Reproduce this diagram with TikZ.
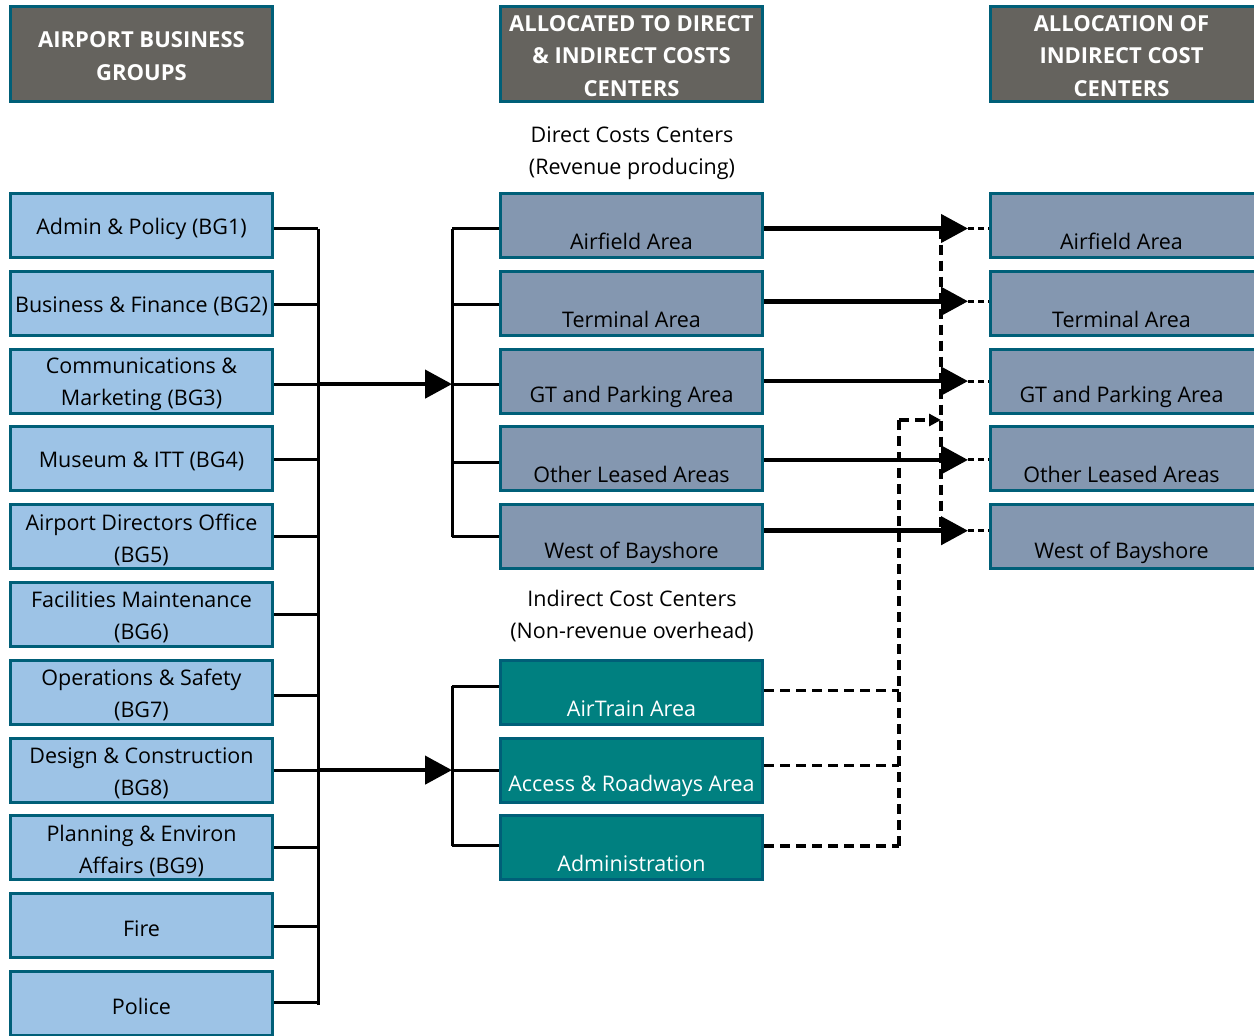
\documentclass[tikz,border=0pt]{standalone}
\usepackage{fontspec}
\setmainfont{Open Sans}
\usetikzlibrary{arrows.meta}
\definecolor{hdr}{HTML}{65635E}
\definecolor{bdr}{HTML}{005F78}
\definecolor{lbox}{HTML}{9DC3E6}
\definecolor{gbox}{HTML}{8497B0}
\definecolor{tbox}{HTML}{008080}
\begin{document}
\begin{tikzpicture}[x=1pt,y=-1pt,
  basebox/.style={draw=bdr, line width=3pt, minimum width=262pt, minimum height=64pt, inner sep=0pt, align=center},
  hdrbox/.style={basebox, fill=hdr, minimum height=95pt},
  widebox/.style={minimum width=268pt},
  lb/.style={basebox, fill=lbox},
  gb/.style={basebox, fill=gbox},
  tb/.style={basebox, fill=tbox},
  txt/.style={align=center, font=\fontsize{21.5}{32}\selectfont},
  hlab/.style={align=center, text=white, font=\bfseries\fontsize{22}{32.5}\selectfont, yshift=-2pt},
  llab/.style={txt, yshift=-3pt},
  glab/.style={txt, yshift=-16pt},
  wlab/.style={glab, text=white},
  thinline/.style={line width=3pt},
  thickarrow/.style={line width=4.5pt, -{Triangle[length=27pt,width=28pt]}},
  dashline/.style={line width=3.2pt, dash pattern=on 10pt off 6pt},
  dotline/.style={line width=3pt, dash pattern=on 6pt off 4pt},
  smallarrow/.style={dashline, -{Triangle[length=12pt,width=12pt]}}
]
\useasboundingbox (0,0) rectangle (1254,1036);
\clip (0,0) rectangle (1254,1036);

% headers
\node[hdrbox, label={[hlab]center:AIRPORT BUSINESS\\GROUPS}] (h1) at (141.5,54) {};
\node[hdrbox, label={[hlab]center:ALLOCATED TO DIRECT\\\& INDIRECT COSTS\\CENTERS}] (h2) at (631.5,54) {};
\node[hdrbox, widebox, label={[hlab, xshift=-3pt]center:ALLOCATION OF\\INDIRECT COST\\CENTERS}] (h3) at (1124.5,54) {};

\node[txt] (t1) at (632,153) {Direct Costs Centers\\(Revenue producing)};
\node[txt] (t2) at (632,616) {Indirect Cost Centers\\(Non-revenue overhead)};

% left column
\node[lb, label={[llab]center:Admin \& Policy (BG1)}] (b1) at (141.5,225.5) {};
\node[lb, label={[llab]center:Business \& Finance (BG2)}] (b2) at (141.5,303.3) {};
\node[lb, label={[llab]center:Communications \&\\Marketing (BG3)}] (b3) at (141.5,381.1) {};
\node[lb, label={[llab]center:Museum \& ITT (BG4)}] (b4) at (141.5,458.9) {};
\node[lb, label={[llab]center:Airport Directors Office\\(BG5)}] (b5) at (141.5,536.7) {};
\node[lb, label={[llab]center:Facilities Maintenance\\(BG6)}] (b6) at (141.5,614.5) {};
\node[lb, label={[llab]center:Operations \& Safety\\(BG7)}] (b7) at (141.5,692.3) {};
\node[lb, label={[llab]center:Design \& Construction\\(BG8)}] (b8) at (141.5,770.1) {};
\node[lb, label={[llab]center:Planning \& Environ\\Affairs (BG9)}] (b9) at (141.5,847.9) {};
\node[lb, label={[llab]center:Fire}] (b10) at (141.5,925.7) {};
\node[lb, label={[llab]center:Police}] (b11) at (141.5,1003.5) {};

% middle column
\node[gb, label={[glab]center:Airfield Area}] (m1) at (631.5,225.5) {};
\node[gb, label={[glab]center:Terminal Area}] (m2) at (631.5,303.3) {};
\node[gb, label={[glab]center:GT and Parking Area}] (m3) at (631.5,381.1) {};
\node[gb, label={[glab]center:Other Leased Areas}] (m4) at (631.5,458.9) {};
\node[gb, label={[glab]center:West of Bayshore}] (m5) at (631.5,536.7) {};
\node[tb, label={[wlab]center:AirTrain Area}] (i1) at (631.5,692.3) {};
\node[tb, label={[wlab]center:Access \& Roadways Area}] (i2) at (631.5,770.1) {};
\node[tb, label={[wlab]center:Administration}] (i3) at (631.5,847.9) {};

% right column
\node[gb, widebox, label={[glab, xshift=-3pt]center:Airfield Area}] (r1) at (1124.5,225.5) {};
\node[gb, widebox, label={[glab, xshift=-3pt]center:Terminal Area}] (r2) at (1124.5,303.3) {};
\node[gb, widebox, label={[glab, xshift=-3pt]center:GT and Parking Area}] (r3) at (1124.5,381.1) {};
\node[gb, widebox, label={[glab, xshift=-3pt]center:Other Leased Areas}] (r4) at (1124.5,458.9) {};
\node[gb, widebox, label={[glab, xshift=-3pt]center:West of Bayshore}] (r5) at (1124.5,536.7) {};

% guide coordinates
\coordinate (busx) at (318,0);
\coordinate (brx) at (452,0);
\coordinate (tipx) at (968,0);
\coordinate (vx) at (941,0);
\coordinate (dx) at (899,0);
\coordinate (my) at (0,420);

% left bus
\draw[thinline] ([yshift=-3pt]b1.east -| busx) -- ([yshift=-1.5pt]b11.east -| busx);
\foreach \n/\s in {b1/-3,b2/-1,b3/-3,b4/-1,b5/0,b6/0,b7/-3,b8/0,b9/0,b10/-1,b11/1.5}
  \draw[thinline] ([yshift=\s pt]\n.east) -- ([yshift=\s pt]\n.east -| busx);

% main arrows
\draw[thickarrow] ([yshift=-3pt]b3.east -| busx) -- ([yshift=-3pt]b3.east -| brx);
\draw[thickarrow] (b8.east -| busx) -- (b8.east -| brx);

% middle brackets
\draw[thinline] ([yshift=-3pt]m1.west -| brx) -- (m5.west -| brx);
\foreach \n/\s in {m1/-3,m2/-1,m3/-3,m4/-4,m5/0}
  \draw[thinline] ([yshift=\s pt]\n.west -| brx) -- ([yshift=\s pt]\n.west);
\draw[thinline] ([yshift=6pt]i1.west -| brx) -- ([yshift=2pt]i3.west -| brx);
\foreach \n/\s in {i1/6,i2/0,i3/2}
  \draw[thinline] ([yshift=\s pt]\n.west -| brx) -- ([yshift=\s pt]\n.west);

% right arrows
\foreach \a/\b/\s in {m1/r1/-3,m2/r2/2,m3/r3/0,m4/r4/-1,m5/r5/6}{
  \draw[thickarrow] ([yshift=\s pt]\a.east) -- ([yshift=\s pt]\a.east -| tipx);
  \draw[dotline] ([yshift=\s pt]\a.east -| tipx) -- ([yshift=\s pt]\b.west);
}
\draw[dashline] ([yshift=-3pt]m1.east -| vx) -- ([yshift=6pt]m5.east -| vx);

% indirect dashed
\foreach \n/\s in {i1/2,i2/5,i3/2}
  \draw[dashline] ([yshift=\s pt]\n.east) -- ([yshift=\s pt]\n.east -| dx);
\draw[dashline] ([yshift=2pt]i3.east -| dx) -- (dx |- my);
\draw[smallarrow] (dx |- my) -- (vx |- my);
\end{tikzpicture}
\end{document}
